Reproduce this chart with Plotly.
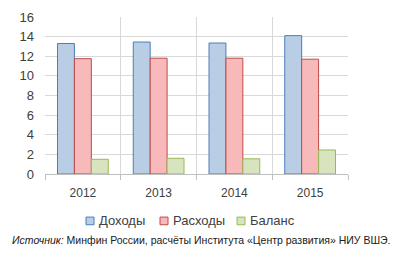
import plotly.graph_objects as go

years = ["2012", "2013", "2014", "2015"]
dohody = [13.3, 13.45, 13.35, 14.1]
rashody = [11.75, 11.8, 11.8, 11.7]
balans = [1.5, 1.6, 1.55, 2.45]

series = [
    ("Доходы", dohody, "#B9CDE5", "#4A7EBB"),
    ("Расходы", rashody, "#F7B9B9", "#BE4B48"),
    ("Баланс", balans, "#D7E4BD", "#98B954"),
]

# layout geometry (pixels)
W, H = 400, 261
L, R, T, B = 45, 52, 10, 87
pw, ph = W - L - R, H - T - B


def px_x(x):
    return (x - L) / pw


def px_y(y):
    return (H - B - y) / ph


xpos = list(range(len(years)))
fig = go.Figure()
for name, vals, fill, line in series:
    fig.add_trace(go.Bar(x=xpos, y=vals, name=name, showlegend=False,
                         marker=dict(color=fill, line=dict(color=line, width=1))))

font = "Liberation Sans, Arial, sans-serif"

# manual legend (compact Excel-like)
leg_sq_left = [86, 160, 237]
leg_y = 223
shapes = []
annotations = []
for (name, _, fill, line), sx in zip(series, leg_sq_left):
    shapes.append(dict(type="rect", xref="paper", yref="paper",
                       x0=px_x(sx), x1=px_x(sx + 8), y0=px_y(leg_y + 4), y1=px_y(leg_y - 4),
                       fillcolor=fill, line=dict(color=line, width=1)))
    annotations.append(dict(text=name, xref="paper", yref="paper", x=px_x(sx + 11),
                            y=px_y(leg_y), xanchor="left", yanchor="middle", showarrow=False,
                            font=dict(size=13, color="#404040", family=font)))

annotations.append(dict(text="<i>Источник:</i> Минфин России, расчёты Института «Центр развития» НИУ ВШЭ.",
                        xref="paper", yref="paper", x=px_x(201), y=px_y(243), xanchor="center",
                        yanchor="middle", showarrow=False,
                        font=dict(size=10.5, color="#202020", family=font)))

fig.update_layout(
    width=W, height=H,
    margin=dict(l=L, r=R, t=T, b=B),
    paper_bgcolor="white", plot_bgcolor="white",
    barmode="group", bargap=0.33, bargroupgap=0,
    font=dict(family=font, color="#404040"),
    showlegend=False,
    xaxis=dict(range=[-0.5, 3.5], tickvals=xpos, ticktext=years, showgrid=False,
               zeroline=False, showline=True, linecolor="#BFBFBF", ticks="",
               tickfont=dict(size=12, color="#404040"), ticklabelstandoff=8,
               minor=dict(tickvals=[-0.5, 0.5, 1.5, 2.5, 3.5], showgrid=True,
                          gridcolor="#D9D9D9", ticks="outside", ticklen=5,
                          tickcolor="#BFBFBF")),
    yaxis=dict(range=[0, 16], dtick=2, showgrid=True, gridcolor="#D9D9D9",
               zeroline=False, showline=False, ticks="",
               tickfont=dict(size=13, color="#404040"), ticklabelstandoff=10),
    shapes=shapes,
    annotations=annotations,
)
fig.write_html("out.html")
